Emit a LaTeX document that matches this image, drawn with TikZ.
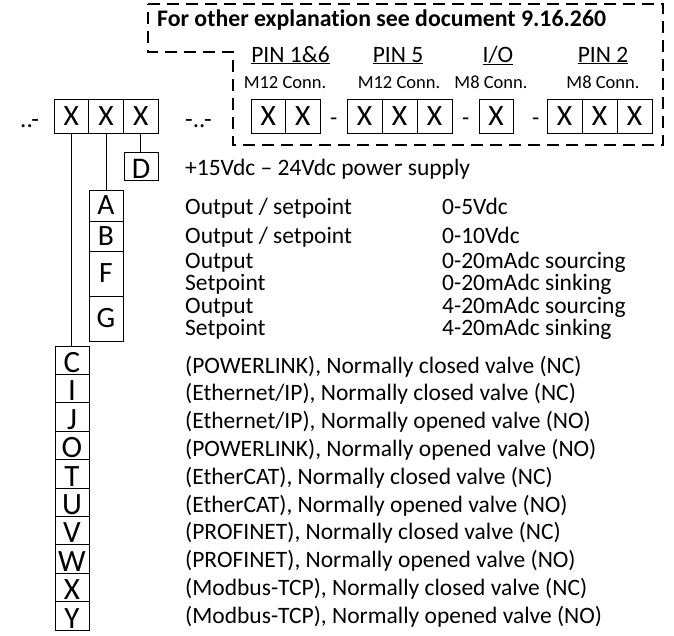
\documentclass[tikz,border=0pt]{standalone}
\usepackage{fontspec}
\setmainfont{Carlito}[Ligatures=CommonOff]
\begin{document}
\begin{tikzpicture}[x=1pt,y=-1pt,
  txt/.style={anchor=base west, inner sep=0pt, font=\fontsize{23.5}{26}\selectfont},
  small/.style={anchor=base, inner sep=0pt, font=\fontsize{18.5}{20}\selectfont},
  pin/.style={anchor=base, inner sep=0pt, font=\fontsize{23.5}{26}\selectfont},
  cell/.style={draw, line width=0.8pt, inner sep=0pt, outer sep=0pt, minimum width=34.5pt, minimum height=34pt, font=\fontsize{29.5}{30}\selectfont},
  codebox/.style={draw, line width=0.8pt, inner sep=0pt, outer sep=0pt, minimum width=34pt, font=\fontsize{29.5}{30}\selectfont},
  lowbox/.style={draw, line width=0.8pt, inner sep=0pt, outer sep=0pt, minimum width=34pt, text height=24.4pt, text depth=0pt, font=\fontsize{31}{32}\selectfont},
  conn/.style={line width=0.8pt},
  frame/.style={line width=1.1pt, dash pattern=on 12pt off 7pt}
]
\useasboundingbox (0,0) rectangle (674,635);

% dashed frame
\draw[frame] (148,4) -- (663,4) -- (663,145) -- (233,145) -- (233,52) -- (148,52) -- cycle;
\node[txt, font=\fontsize{23.8}{26}\selectfont\bfseries] (title) at (157,26) {For other explanation see document 9.16.260};

% pin labels
\node[pin] (p1) at (290.5,62) {\underline{PIN 1\&6}};
\node[pin] (p5) at (398,62) {\underline{PIN 5}};
\node[pin] (pio) at (498,62) {\underline{I/O}};
\node[pin] (p2) at (603,62) {\underline{PIN 2}};
\node[small] (c1) at (285,88) {M12 Conn.};
\node[small] (c2) at (399,88) {M12 Conn.};
\node[small] (c3) at (491,88) {M8 Conn.};
\node[small] (c4) at (603,88) {M8 Conn.};

% main cells
\node[txt, font=\fontsize{25}{26}\selectfont] (pre) at (20,127) {..-};
\node[cell, minimum width=34.7pt] (m1) at (71.3,116) {X};
\node[cell, minimum width=34.7pt] (m2) at (106,116) {X};
\node[cell, minimum width=34.7pt] (m3) at (140.7,116) {X};
\node[txt, font=\fontsize{25}{26}\selectfont] (mid) at (185,127) {-..-};

% right cells
\node[cell] (r11) at (268.25,116) {X};
\node[cell] (r12) at (302.75,116) {X};
\node[txt] (d1) at (330,125) {-};
\node[cell, minimum width=35pt] (r21) at (364.5,116) {X};
\node[cell, minimum width=35pt] (r22) at (399.5,116) {X};
\node[cell, minimum width=35pt] (r23) at (434.5,116) {X};
\node[txt] (d2) at (462,125) {-};
\node[cell, minimum width=34pt] (r31) at (496,116) {X};
\node[txt] (d3) at (532,125) {-};
\node[cell, minimum width=35pt] (r41) at (564.5,116) {X};
\node[cell, minimum width=35pt] (r42) at (599.5,116) {X};
\node[cell, minimum width=35pt] (r43) at (634.5,116) {X};

% D
\node[lowbox, minimum height=28pt, font=\fontsize{30}{32}\selectfont] (D) at (141,166) {D};
\draw[conn] (m3.south) -- (m3.south |- D.north);
\node[txt] (pw) at (185,175) {+15Vdc – 24Vdc power supply};

% A B F G
\node[codebox, minimum height=31pt] (A) at (106,205.5) {A};
\node[codebox, minimum height=30pt] (B) at (106,236) {B};
\node[codebox, minimum height=45pt] (F) at (106,273.5) {F};
\node[codebox, minimum height=45pt] (G) at (106,318.5) {G};
\draw[conn] (m2.south) -- (m2.south |- A.north);

\node[txt] (ta) at (185,214) {Output / setpoint};
\node[txt] (tb) at (185,243) {Output / setpoint};
\node[txt] (tf1) at (185,268) {Output};
\node[txt] (tf2) at (185,290) {Setpoint};
\node[txt] (tg1) at (185,313) {Output};
\node[txt] (tg2) at (185,335) {Setpoint};
\node[txt] (va) at (442,214) {0-5Vdc};
\node[txt] (vb) at (442,243) {0-10Vdc};
\node[txt] (vf1) at (442,268) {0-20mAdc sourcing};
\node[txt] (vf2) at (442,290) {0-20mAdc sinking};
\node[txt] (vg1) at (442,313) {4-20mAdc sourcing};
\node[txt] (vg2) at (442,335) {4-20mAdc sinking};

% bottom column
\foreach \L/\T [count=\i from 0] in {
  C/{(POWERLINK), Normally closed valve (NC)},
  I/{(Ethernet/IP), Normally closed valve (NC)},
  J/{(Ethernet/IP), Normally opened valve (NO)},
  O/{(POWERLINK), Normally opened valve (NO)},
  T/{(EtherCAT), Normally closed valve (NC)},
  U/{(EtherCAT), Normally opened valve (NO)},
  V/{(PROFINET), Normally closed valve (NC)},
  W/{(PROFINET), Normally opened valve (NO)},
  X/{(Modbus-TCP), Normally closed valve (NC)},
  Y/{(Modbus-TCP), Normally opened valve (NO)}}{
  \node[lowbox, minimum height=28.4pt] (b\L) at (72,{360.2+\i*28.4}) {\L};
  \node[txt] (t\L) at (185,{373+\i*27.8}) {\T};
}
\draw[conn] (m1.south) -- (m1.south |- bC.north);
\end{tikzpicture}
\end{document}
